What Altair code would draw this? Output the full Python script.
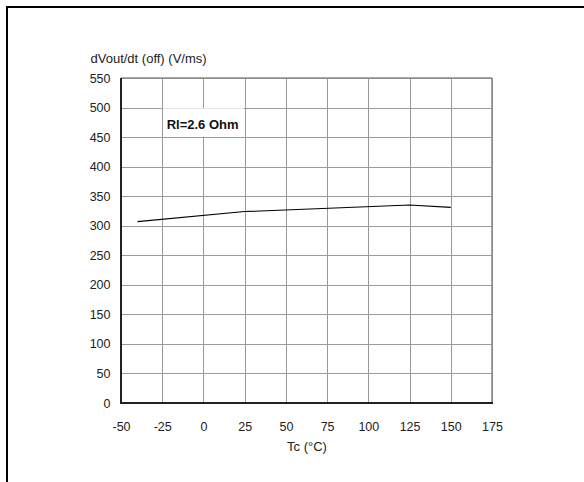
import altair as alt
import pandas as pd

temps = [-40, 25, 125, 150]
slew = [307, 324, 335, 331]
label_text = "Rl=2.6 Ohm"
x_ticks = [-50, -25, 0, 25, 50, 75, 100, 125, 150, 175]
y_ticks = list(range(0, 551, 50))

FONT = "Liberation Sans"
df = pd.DataFrame({"Tc": temps, "v": slew})

xs = alt.Scale(domain=[-50, 175], nice=False, zero=False)
ys = alt.Scale(domain=[0, 550], nice=False)

line = alt.Chart(df).mark_line(color="black", strokeWidth=1.1).encode(
    x=alt.X("Tc:Q", scale=xs, axis=alt.Axis(
        values=x_ticks, tickCount=30, title="Tc (°C)", grid=True, gridColor="#9a9a9a", gridWidth=1,
        domain=False, ticks=False, labelPadding=17, labelFontSize=12.5, labelFont=FONT,
        labelColor="#222", titleFont=FONT, titleFontSize=13, titleFontWeight="normal",
        titleColor="#222", titlePadding=8, labelFlush=False, labelOverlap=False,
        labelExpr="'' + datum.value")),
    y=alt.Y("v:Q", scale=ys, axis=alt.Axis(
        values=y_ticks, tickCount=30, title="dVout/dt (off) (V/ms)", grid=True, gridColor="#9a9a9a",
        gridWidth=1, domain=False, ticks=False, labelPadding=11, labelFontSize=12.5,
        labelFont=FONT, labelColor="#222", titleFont=FONT, titleFontSize=13,
        titleFontWeight="normal", titleColor="#222", titleAngle=0, titleAlign="left",
        titleBaseline="alphabetic", titleX=-31, titleY=-16, labelFlush=False,
        labelOverlap=False, labelExpr="'' + datum.value")),
)

box_df = pd.DataFrame({"x": [-24.5], "x2": [24.5], "y": [451], "y2": [499], "t": [label_text], "tx": [-22.3]})
box = alt.Chart(box_df).mark_rect(fill="white").encode(
    x=alt.X("x:Q", scale=xs), x2="x2:Q", y=alt.Y("y:Q", scale=ys), y2="y2:Q")
txt = alt.Chart(box_df).mark_text(font=FONT, fontSize=13, fontWeight="bold", align="left",
                                  baseline="middle", color="#111").encode(
    x=alt.X("tx:Q", scale=xs), y=alt.value(47), text="t:N")

def rule(color="black", width=2, **enc):
    return alt.Chart(pd.DataFrame({"a": [0]})).mark_rule(color=color, strokeWidth=width).encode(**enc)

frame_top = rule("#8a8a8a", 1.6, x=alt.value(0), x2=alt.value(371), y=alt.value(0))
frame_right = rule("#8a8a8a", 1.6, x=alt.value(371), y=alt.value(0), y2=alt.value(325))
frame_left = rule("#222222", 2, x=alt.value(0), y=alt.value(0), y2=alt.value(326))
frame_bottom = rule("#222222", 2, x=alt.value(-1), x2=alt.value(372), y=alt.value(325))
top_line = rule("black", 2, x=alt.value(-114), x2=alt.value(463), y=alt.value(-71))
left_line = rule("black", 2, x=alt.value(-114), y=alt.value(-72), y2=alt.value(410))

chart = alt.layer(line, box, txt, frame_top, frame_right, frame_left, frame_bottom,
                  top_line, left_line).properties(
    width=371, height=325,
    autosize=alt.AutoSizeParams(type="none"),
    padding={"left": 121, "top": 78, "right": 92, "bottom": 79},
).configure_view(stroke=None).configure(background="white")

chart.save("out.html", embed_options={"renderer": "svg", "actions": False})
